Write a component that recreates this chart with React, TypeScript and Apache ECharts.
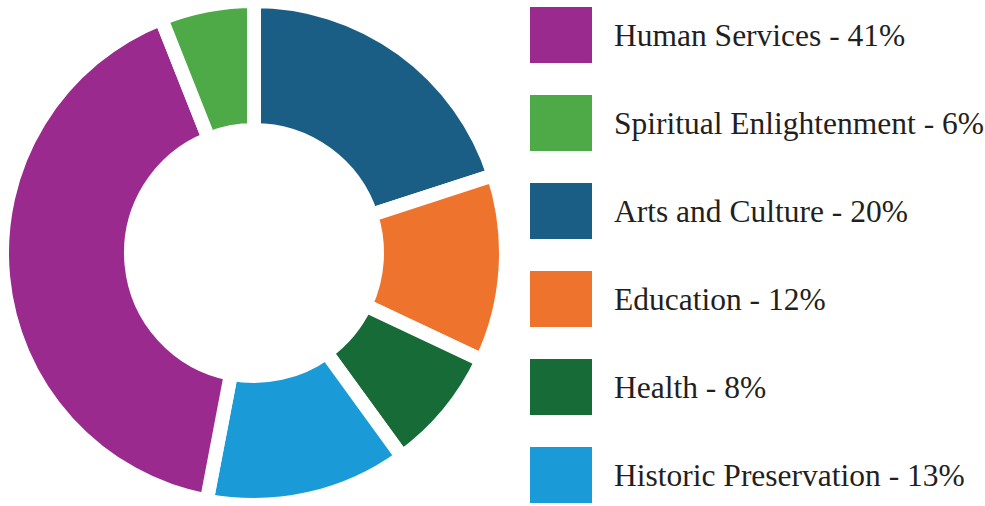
import React, { useEffect, useRef } from "react";
import * as echarts from "echarts";

const categories = [
  "Arts and Culture",
  "Education",
  "Health",
  "Historic Preservation",
  "Human Services",
  "Spiritual Enlightenment",
];
const values = [20, 12, 8, 13, 41, 6];
const colors = ["#1B5E85", "#EE742E", "#166B37", "#1A9BD7", "#9B2A8E", "#4DAA47"];
const legendOrder = [
  "Human Services",
  "Spiritual Enlightenment",
  "Arts and Culture",
  "Education",
  "Health",
  "Historic Preservation",
];

export default function App() {
  const ref = useRef<HTMLDivElement>(null);
  useEffect(() => {
    if (!ref.current) return;
    const chart = echarts.init(ref.current, undefined, { renderer: "svg" });
    const valueMap: Record<string, number> = {};
    categories.forEach((c, i) => (valueMap[c] = values[i]));
    chart.setOption({
      animation: false,
      backgroundColor: "#ffffff",
      legend: {
        orient: "vertical",
        left: 530,
        top: 7,
        padding: 0,
        icon: "rect",
        itemWidth: 62,
        itemHeight: 56,
        itemGap: 32,
        data: legendOrder,
        itemStyle: { borderWidth: 0 },
        selectedMode: false,
        formatter: (name: string) => `${name} - ${valueMap[name]}%`,
        textStyle: {
          fontFamily: "Liberation Serif",
          fontSize: 31.5,
          color: "#231F20",
          padding: [0, 0, 0, 17],
        },
      },
      series: [
        {
          type: "pie",
          center: [254, 253],
          radius: [123, 252],
          startAngle: 90,
          clockwise: true,
          label: { show: false },
          labelLine: { show: false },
          emphasis: { disabled: true },
          itemStyle: { borderColor: "#ffffff", borderWidth: 14 },
          data: categories.map((c, i) => ({
            name: c,
            value: values[i],
            itemStyle: { color: colors[i] },
          })),
        },
      ],
    });
    return () => chart.dispose();
  }, []);
  return (
    <div
      ref={ref}
      style={{ position: "fixed", left: 0, top: 0, width: 985, height: 506 }}
    />
  );
}
